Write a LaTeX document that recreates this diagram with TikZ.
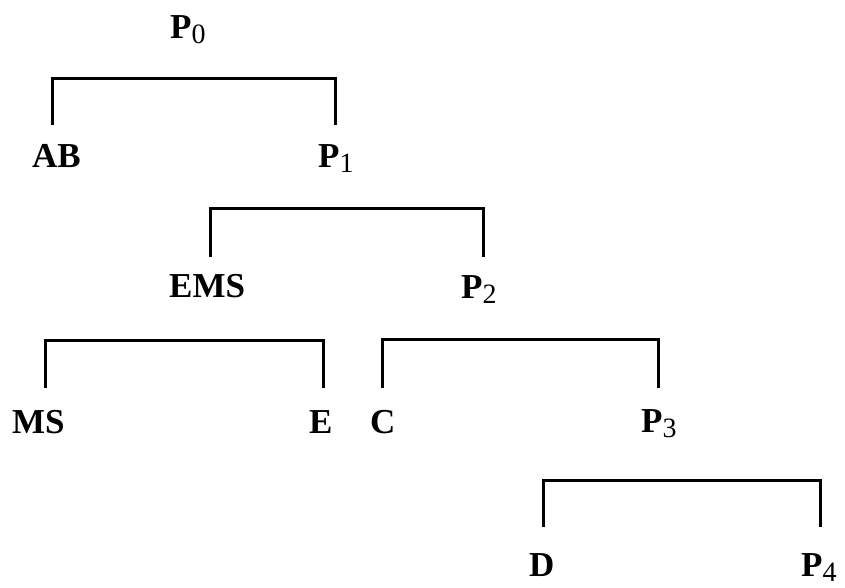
\documentclass[tikz,border=0pt]{standalone}
\usepackage{fontspec}
\setmainfont{Liberation Serif}
\newcommand\idx[1]{\raisebox{-5pt}[0pt][0pt]{\fontsize{28}{32}\selectfont\mdseries #1}}
\tikzset{
  lbl/.style={anchor=base west, inner sep=0pt, font=\fontsize{35}{42}\selectfont\bfseries},
  bracket/.style={line width=3pt, line join=miter}
}
\begin{document}
\begin{tikzpicture}[x=1pt, y=-1pt]
  \useasboundingbox (0,0) rectangle (845,587);

  % labels of the decomposition tree
  \node[lbl] (p0)  at (170,38)  {P\idx{0}};
  \node[lbl] (ab)  at (32,167)  {AB};
  \node[lbl] (p1)  at (318,167) {P\idx{1}};
  \node[lbl] (ems) at (169,297) {EMS};
  \node[lbl] (p2)  at (461,298) {P\idx{2}};
  \node[lbl] (ms)  at (12,433)  {MS};
  \node[lbl] (e)   at (309,433) {E};
  \node[lbl] (c)   at (370,433) {C};
  \node[lbl] (p3)  at (641,432) {P\idx{3}};
  \node[lbl] (d)   at (529,576) {D};
  \node[lbl] (p4)  at (801,576) {P\idx{4}};

  % lower ends of the bracket legs, just above each child
  \coordinate (ab-top)  at (52,125);
  \coordinate (p1-top)  at (335,125);
  \coordinate (ems-top) at (210,257);
  \coordinate (p2-top)  at (483,257);
  \coordinate (ms-top)  at (45,388);
  \coordinate (e-top)   at (323,388);
  \coordinate (c-top)   at (382,388);
  \coordinate (p3-top)  at (658,388);
  \coordinate (d-top)   at (543,527);
  \coordinate (p4-top)  at (820,527);

  % brackets joining the two parts of each split
  \draw[bracket] (ab-top)  -- ++(0,-47) -| (p1-top);
  \draw[bracket] (ems-top) -- ++(0,-49) -| (p2-top);
  \draw[bracket] (ms-top)  -- ++(0,-48) -| (e-top);
  \draw[bracket] (c-top)   -- ++(0,-49) -| (p3-top);
  \draw[bracket] (d-top)   -- ++(0,-47) -| (p4-top);
\end{tikzpicture}
\end{document}
